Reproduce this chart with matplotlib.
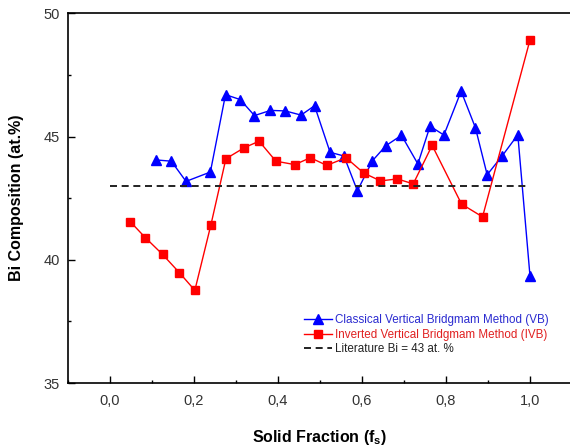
"""Bi composition along the ingot for VB and IVB growth."""

import numpy as np
import matplotlib
matplotlib.use("Agg")
import matplotlib.pyplot as plt
from matplotlib.ticker import FuncFormatter, MultipleLocator

plt.rcParams['font.family'] = ['Liberation Sans', 'DejaVu Sans']
plt.rcParams['mathtext.fontset'] = 'custom'
plt.rcParams['mathtext.rm'] = 'Liberation Sans'
plt.rcParams['mathtext.bf'] = 'Liberation Sans:bold'

# classical vertical Bridgman (VB)
fs_vb = [0.110, 0.146, 0.181, 0.239, 0.275, 0.310, 0.344, 0.382, 0.417,
         0.455, 0.487, 0.524, 0.557, 0.589, 0.625, 0.657, 0.694, 0.733,
         0.762, 0.795, 0.836, 0.870, 0.898, 0.934, 0.971, 1.000]
bi_vb = [44.05, 44.00, 43.18, 43.56, 46.70, 46.50, 45.85, 46.06, 46.04,
         45.87, 46.25, 44.36, 44.21, 42.80, 44.02, 44.63, 45.05, 43.89,
         45.42, 45.06, 46.84, 45.36, 43.45, 44.22, 45.07, 39.34]

# inverted vertical Bridgman (IVB)
fs_ivb = [0.048, 0.084, 0.125, 0.165, 0.202, 0.240, 0.276, 0.320, 0.355,
          0.395, 0.440, 0.477, 0.516, 0.562, 0.604, 0.644, 0.684, 0.722,
          0.767, 0.837, 0.887, 1.000]
bi_ivb = [41.55, 40.90, 40.22, 39.48, 38.76, 41.40, 44.10, 44.55, 44.81,
          44.00, 43.86, 44.14, 43.83, 44.14, 43.52, 43.20, 43.28, 43.08,
          44.64, 42.26, 41.74, 48.92]

lit_bi = 43.0
lit_range = [0.0, 1.0]

fig = plt.figure(figsize=(5.70, 4.48), dpi=100)
ax = fig.add_axes([68/570, 65/448, 504/570, 369.7/448])

ax.plot(fs_vb, bi_vb, color='blue', lw=1.0, marker='^', ms=7.5,
        label='Classical Vertical Bridgmam Method (VB)')
ax.plot(fs_ivb, bi_ivb, color='red', lw=1.0, marker='s', ms=5.5,
        label='Inverted Vertical Bridgmam Method (IVB)')
ax.plot(lit_range, [lit_bi, lit_bi], color='#222222', lw=1.4,
        dashes=(3.6, 2.4), label='Literature Bi = 43 at. %')

ax.set_xlim(-0.1, 1.1)
ax.set_ylim(35, 50)
ax.xaxis.set_major_locator(MultipleLocator(0.2))
ax.xaxis.set_minor_locator(MultipleLocator(0.1))
ax.yaxis.set_major_locator(MultipleLocator(5))
ax.yaxis.set_minor_locator(MultipleLocator(2.5))
ax.xaxis.set_major_formatter(FuncFormatter(lambda v, p: f"{v:.1f}".replace('.', ',')))
ax.tick_params(which='both', direction='in', labelsize=10.5, width=1.0,
               labelcolor='#333333')
ax.tick_params(which='major', length=5, pad=6)
ax.tick_params(which='minor', length=2.5)
ax.tick_params(axis='x', pad=8)
for s in ax.spines.values():
    s.set_linewidth(1.2)

ax.set_xlabel(r'Solid Fraction (f$_\mathbf{s}$)', fontsize=11.5,
              fontweight='bold', labelpad=14)
ax.set_ylabel('Bi Composition (at.%)', fontsize=11.5, fontweight='bold',
              labelpad=14)

leg = ax.legend(loc='upper left', bbox_to_anchor=(0.468, 0.186), frameon=False,
                fontsize=8.4, handlelength=2.4, handletextpad=0.3,
                labelspacing=0.22, borderpad=0, borderaxespad=0)
for txt, c in zip(leg.get_texts(), ['#2b2bd0', '#e02020', '#222222']):
    txt.set_color(c)

fig.savefig('out.png', dpi=100)
